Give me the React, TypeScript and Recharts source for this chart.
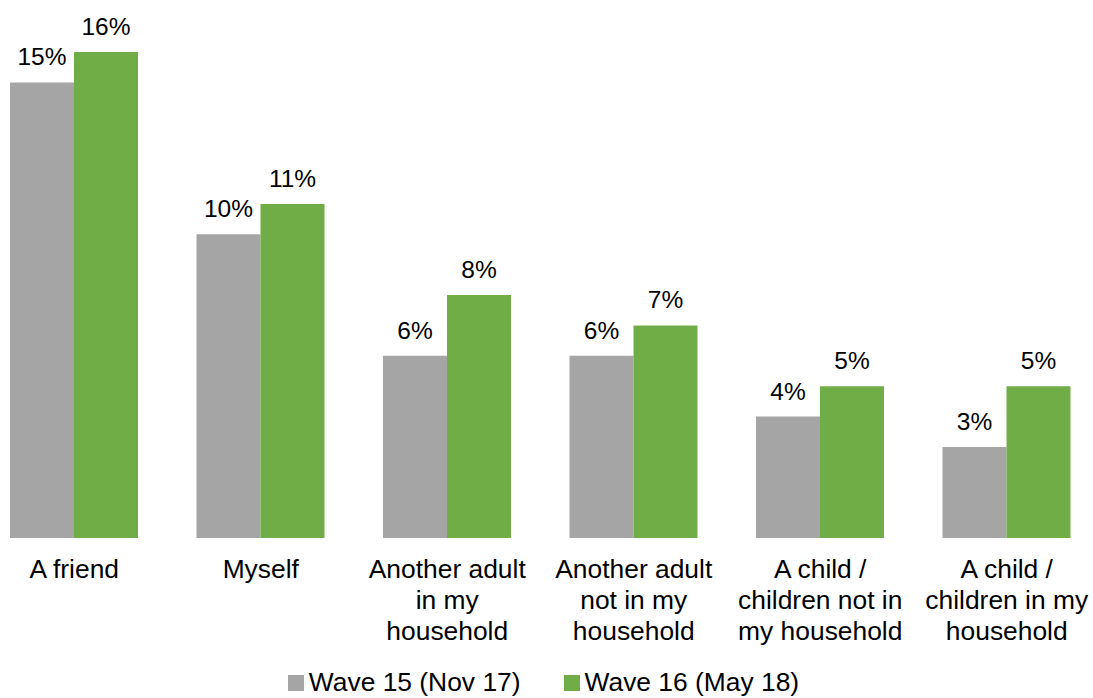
import { Bar, BarChart, LabelList, Legend, XAxis, YAxis } from "recharts";

const CATEGORIES = [
  "A friend",
  "Myself",
  "Another adult\nin my\nhousehold",
  "Another adult\nnot in my\nhousehold",
  "A child /\nchildren not in\nmy household",
  "A child /\nchildren in my\nhousehold",
];
const WAVE_15 = [15, 10, 6, 6, 4, 3];
const WAVE_16 = [16, 11, 8, 7, 5, 5];

const SERIES = [
  { key: "w15", name: "Wave 15 (Nov 17)", color: "#A5A5A5" },
  { key: "w16", name: "Wave 16 (May 18)", color: "#70AD47" },
];

const FONT = '"Liberation Sans", Arial, sans-serif';

const data = CATEGORIES.map((label, i) => ({ label, w15: WAVE_15[i], w16: WAVE_16[i] }));

function CategoryTick({ x, y, payload }: any) {
  const lines = String(payload.value).split("\n");
  return (
    <text x={x} y={y} textAnchor="middle" fontFamily={FONT} fontSize={26.4} fill="#000">
      {lines.map((line, i) => (
        <tspan key={i} x={x} dy={i === 0 ? 40 : 31}>
          {line}
        </tspan>
      ))}
    </text>
  );
}

function LegendContent() {
  return (
    <div
      style={{
        display: "flex",
        justifyContent: "center",
        paddingLeft: 6,
        height: 34,
        lineHeight: "34px",
        fontFamily: FONT,
        fontSize: 26.4,
        color: "#000",
        whiteSpace: "nowrap",
      }}
    >
      {SERIES.map((s, i) => (
        <span key={s.key} style={{ marginLeft: i === 0 ? 0 : 43 }}>
          <span
            style={{ display: "inline-block", width: 16, height: 16, background: s.color, marginRight: 5 }}
          />
          {s.name}
        </span>
      ))}
    </div>
  );
}

export default function App() {
  return (
    <div
      style={{
        position: "fixed",
        left: 0,
        top: 0,
        width: 1093,
        height: 698,
        overflow: "hidden",
        background: "#fff",
      }}
    >
      <div style={{ position: "absolute", left: -19, top: 0 }}>
        <BarChart
          width={1119}
          height={700}
          data={data}
          margin={{ top: 52, right: 0, bottom: 1, left: 0 }}
          barCategoryGap={29}
          barGap={0}
        >
          <XAxis
            dataKey="label"
            axisLine={false}
            tickLine={false}
            tickSize={0}
            tickMargin={0}
            height={127}
            interval={0}
            tick={<CategoryTick />}
          />
          <YAxis hide domain={[0, 16]} />
          <Legend verticalAlign="bottom" content={<LegendContent />} />
          {SERIES.map((s) => (
            <Bar key={s.key} dataKey={s.key} name={s.name} fill={s.color} isAnimationActive={false}>
              <LabelList
                dataKey={s.key}
                position="top"
                offset={17}
                formatter={(v: any) => `${v}%`}
                style={{ fontFamily: FONT, fontSize: 24.5, fill: "#000" }}
              />
            </Bar>
          ))}
        </BarChart>
      </div>
    </div>
  );
}
